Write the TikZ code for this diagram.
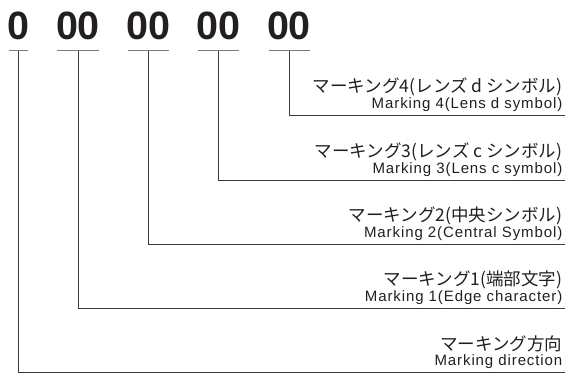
\documentclass[tikz,border=0pt]{standalone}
\usepackage{fontspec}
\setmainfont{Liberation Sans}
\newfontfamily\jpfont{Noto Sans CJK JP}
\newfontfamily\enfont{Liberation Sans}[LetterSpace=6]
\newfontfamily\digfont{Liberation Sans Bold}
\definecolor{ink}{HTML}{231F20}
\definecolor{rule}{HTML}{3A3A3A}
\definecolor{uline}{HTML}{7A7A7A}
\tikzset{
  digits/.style={inner sep=0pt, anchor=base, text=ink, font=\digfont\fontsize{39.5}{40}\selectfont},
  jplabel/.style={inner sep=0pt, anchor=base east, text=ink, font=\jpfont\fontsize{17.5}{18}\selectfont},
  enlabel/.style={inner sep=0pt, anchor=base east, text=ink, font=\enfont\fontsize{15}{16}\selectfont},
  underl/.style={draw=uline, line width=1.1pt},
  leader/.style={draw=rule, line width=1pt},
}
\begin{document}
\begin{tikzpicture}[x=1pt,y=-1pt]
\useasboundingbox (0,0) rectangle (565,374);
% digits
\node[digits] (d0) at (18.8,39.3) {0};
\node[digits] (d1) at (78,39.3) {00};
\node[digits] (d2) at (148.3,39.3) {00};
\node[digits] (d3) at (218.5,39.3) {00};
\node[digits] (d4) at (289,39.3) {00};
% underlines
\draw[underl] (9.3,50.7) -- (28.3,50.7);
\draw[underl] (57,50.7) -- (98.5,50.7);
\draw[underl] (127.5,50.7) -- (168.5,50.7);
\draw[underl] (198,50.7) -- (239,50.7);
\draw[underl] (268.5,50.7) -- (309.5,50.7);
% leader start / end points
\coordinate (t0) at (18.3,50.7);
\coordinate (t1) at (78,50.7);
\coordinate (t2) at (148.8,50.7);
\coordinate (t3) at (218.5,50.7);
\coordinate (t4) at (289.2,50.7);
\coordinate (e0) at (566,372.7);
\coordinate (e1) at (566,308.2);
\coordinate (e2) at (566,244.2);
\coordinate (e3) at (566,180.2);
\coordinate (e4) at (566,115.2);
\draw[leader] (t0) |- (e0);
\draw[leader] (t1) |- (e1);
\draw[leader] (t2) |- (e2);
\draw[leader] (t3) |- (e3);
\draw[leader] (t4) |- (e4);
% labels
\node[jplabel] (j4) at (562.5,92.5) {マーキング4(レンズ d シンボル)};
\node[enlabel] (n4) at (562.5,108.2) {Marking 4(Lens d symbol)};
\node[jplabel] (j3) at (562.5,157.5) {マーキング3(レンズ c シンボル)};
\node[enlabel] (n3) at (562.5,173.2) {Marking 3(Lens c symbol)};
\node[jplabel] (j2) at (562.5,221.5) {マーキング2(中央シンボル)};
\node[enlabel] (n2) at (562.5,237.2) {Marking 2(Central Symbol)};
\node[jplabel] (j1) at (562.5,285.5) {マーキング1(端部文字)};
\node[enlabel] (n1) at (562.5,301.2) {Marking 1(Edge character)};
\node[jplabel] (j0) at (562.5,350) {マーキング方向};
\node[enlabel] (n0) at (562.5,365.7) {Marking direction};
\end{tikzpicture}
\end{document}
